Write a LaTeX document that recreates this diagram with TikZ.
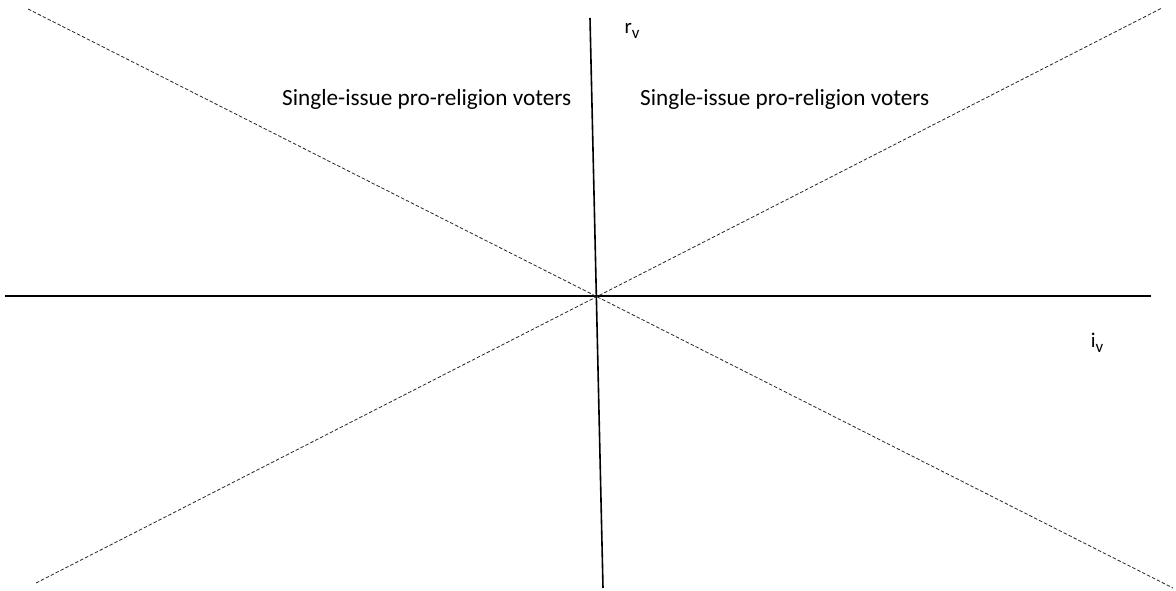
\documentclass[tikz,border=0pt]{standalone}
\usepackage{fontspec}
\setmainfont{Carlito}
\usetikzlibrary{positioning}
\newcommand{\lowsub}[1]{\raisebox{-0.45ex}{\fontsize{17}{20}\selectfont #1}}
\tikzset{
  axis/.style   ={line width=1.6bp, black},
  div/.style    ={line width=0.8bp, black!85, dash pattern=on 3.5bp off 2bp},
  grp/.style    ={font=\fontsize{23.3}{27}\selectfont, inner sep=0pt, anchor=west},
  axlbl/.style  ={font=\fontsize{21}{25}\selectfont, inner sep=0pt},
}

\begin{document}
\begin{tikzpicture}[x=1bp, y=-1bp]
\useasboundingbox (0,0) rectangle (1176,591);
% axes
\coordinate (rtop) at (590,18);
\coordinate (rbot) at (603,588);
\coordinate (ileft) at (5,296);
\coordinate (iright) at (1151,296);
\draw[axis] (rtop) -- (rbot);
\draw[axis] (ileft) -- (iright);
% dividing lines
\coordinate (ul) at (28,9);
\coordinate (lr) at (1173,588);
\coordinate (ll) at (36,583);
\coordinate (ur) at (1162,8);
\draw[div] (ul) -- (lr);
\draw[div] (ll) -- (ur);
% labels
\node[axlbl] (rv) at (632,31) {r\lowsub{v}};
\node[axlbl] (iv) at (1097,343) {i\lowsub{v}};
\node[grp] (left)  at (282,99) {Single-issue pro-religion voters};
\node[grp] (right) at (640,99) {Single-issue pro-religion voters};
\end{tikzpicture}
\end{document}
